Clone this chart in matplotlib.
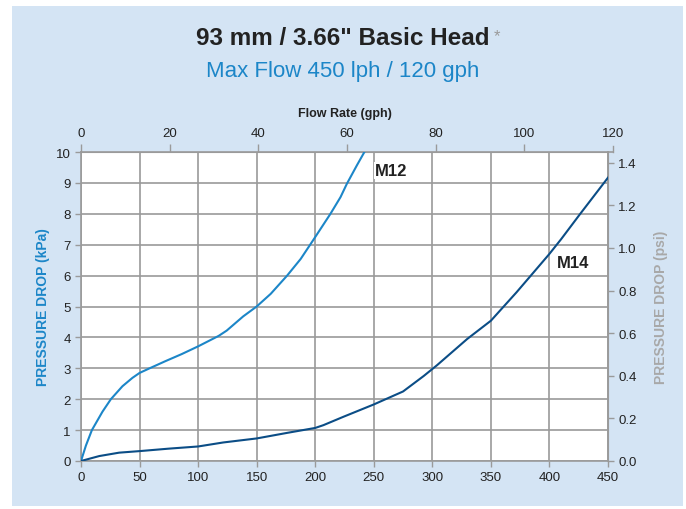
import matplotlib
matplotlib.use("Agg")
import matplotlib.pyplot as plt
from matplotlib.patches import Rectangle

plt.rcParams['font.family'] = ['Liberation Sans', 'DejaVu Sans']

# flow in lph, pressure drop in kPa
m12_flow = [0, 4.2, 9.3, 18.4, 25.5, 35.4, 43.9, 50, 58, 72, 86, 100, 117.6, 124.4,
            138.5, 150, 162, 176, 187.6, 199, 213, 221.6, 227, 235.6, 242]
m12_kpa = [0, 0.5, 1.0, 1.6, 2.0, 2.42, 2.69, 2.85, 2.99, 3.23, 3.46, 3.71, 4.05, 4.22,
           4.68, 5.0, 5.41, 6.0, 6.54, 7.19, 8.0, 8.54, 8.97, 9.57, 10.0]

m14_flow = [0, 15.6, 32.6, 50, 75, 100, 121.5, 150, 176, 200, 207, 224, 250, 275,
            292.6, 304, 329.8, 350, 371.9, 399.7, 410, 425.9, 450]
m14_kpa = [0, 0.16, 0.27, 0.32, 0.40, 0.47, 0.60, 0.73, 0.91, 1.07, 1.16, 1.43, 1.83, 2.25,
           2.75, 3.1, 3.95, 4.54, 5.46, 6.69, 7.18, 7.98, 9.17]

lph_ticks = [0, 50, 100, 150, 200, 250, 300, 350, 400, 450]
gph_ticks = [0, 20, 40, 60, 80, 100, 120]
kpa_ticks = list(range(0, 11))
psi_ticks = [0.0, 0.2, 0.4, 0.6, 0.8, 1.0, 1.2, 1.4]

LPH_PER_GPH = 3.785
PSI_PER_KPA = 0.145038

bg = '#d4e4f4'
light_blue = '#1c86c8'
dark_blue = '#0b4d86'
grid_gray = '#9a9a9a'
txt = '#222222'

fig = plt.figure(figsize=(6.86, 5.10), dpi=100)
fig.patch.set_facecolor('white')
fig.patches.append(Rectangle((12 / 686, 3 / 510), 671 / 686, 500 / 510,
                             transform=fig.transFigure, facecolor=bg,
                             edgecolor='none', zorder=-10))

ax = fig.add_axes([81 / 686, 48 / 510, 527 / 686, 309 / 510])
ax.set_facecolor('white')
ax.plot(m12_flow, m12_kpa, color=light_blue, lw=1.5, zorder=3, solid_joinstyle='round')
ax.plot(m14_flow, m14_kpa, color=dark_blue, lw=1.5, zorder=3, solid_joinstyle='round')

ax.set_xlim(0, 450)
ax.set_ylim(0, 10)
ax.set_xticks(lph_ticks)
ax.set_yticks(kpa_ticks)
ax.grid(True, color=grid_gray, lw=1.2)
ax.set_axisbelow(True)
ax.tick_params(colors=grid_gray, labelcolor=txt, labelsize=9.5, length=4, width=1)
for s in ax.spines.values():
    s.set_color(grid_gray)
    s.set_linewidth(1.2)
ax.set_ylabel('PRESSURE DROP (kPa)', color=light_blue, fontsize=10,
              fontweight='bold', labelpad=4)

ax.text(251, 9.4, 'M12', fontsize=12, fontweight='bold', color=txt,
        ha='left', va='center', zorder=4,
        bbox=dict(facecolor='white', edgecolor='none', pad=1))
ax.text(406, 6.42, 'M14', fontsize=12, fontweight='bold', color=txt,
        ha='left', va='center', zorder=4,
        bbox=dict(facecolor='white', edgecolor='none', pad=1))

# top axis: gph
top = ax.secondary_xaxis('top', functions=(lambda x: x / LPH_PER_GPH,
                                           lambda x: x * LPH_PER_GPH))
top.set_xticks(gph_ticks[:-1])
top.tick_params(colors=grid_gray, labelcolor=txt, labelsize=9.5, length=6, width=1)
top.spines['top'].set_color(grid_gray)
top.set_xlabel('Flow Rate (gph)', fontsize=9, fontweight='bold', color=txt, labelpad=8)
# 120 gph sits just past the plot edge
ax.plot([120 * LPH_PER_GPH] * 2, [10, 10.2], color=grid_gray, lw=1, clip_on=False)
ax.plot([450, 120 * LPH_PER_GPH], [10, 10], color=grid_gray, lw=1.2, clip_on=False)
ax.text(120 * LPH_PER_GPH, 10.42, '120', fontsize=9.5, color=txt, ha='center', va='bottom')

# right axis: psi
right = ax.secondary_yaxis('right', functions=(lambda y: y * PSI_PER_KPA,
                                               lambda y: y / PSI_PER_KPA))
right.set_yticks(psi_ticks)
right.set_yticklabels([f'{v:.1f}' for v in psi_ticks])
right.tick_params(colors=grid_gray, labelcolor=txt, labelsize=9.5, length=4, width=1)
right.spines['right'].set_color(grid_gray)
right.set_ylabel('PRESSURE DROP (psi)', color='#a8a8a8', fontsize=10,
                 fontweight='bold', labelpad=12)

title = fig.text(0.5, 1 - 39 / 510, '93 mm / 3.66" Basic Head', ha='center', va='center',
                 fontsize=17.5, fontweight='bold', color=txt)
fig.text(0.5, 1 - 72 / 510, 'Max Flow 450 lph / 120 gph', ha='center', va='center',
         fontsize=16, color=light_blue)

# asterisk right after the title
fig.canvas.draw()
bb = title.get_window_extent()
fig.text((bb.x1 + 4) / fig.bbox.width, (bb.y1 - 2) / fig.bbox.height, '*',
         ha='left', va='top', fontsize=12, color='#9a9a9a')

fig.savefig('out.png', dpi=100, facecolor=fig.get_facecolor())
